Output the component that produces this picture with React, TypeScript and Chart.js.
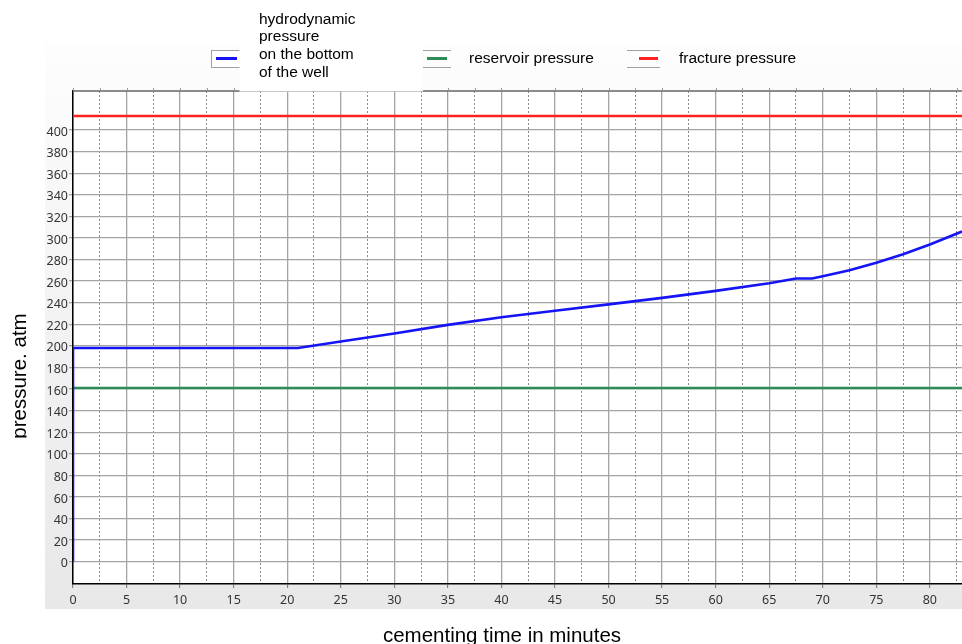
import { useEffect, useRef } from 'react';
import { Chart, registerables } from 'chart.js';

Chart.register(...registerables);

// ---- data ----
const timeMinutes = [0, 0, 21, 25, 30, 35, 40, 45, 50, 55, 60, 65, 67.5, 69, 70, 72.5, 75, 77.5, 80, 83];
const hydroPressure = [0, 198, 198, 204, 211.5, 219.5, 226.5, 232.5, 238.5, 244.5, 251, 258, 262.5, 262.5, 264.5, 270, 277, 285, 294, 306];
const reservoirTime = [0, 83];
const reservoirPressure = [161, 161];
const fractureTime = [0, 83];
const fracturePressure = [413, 413];

const xMajorTicks = [0, 5, 10, 15, 20, 25, 30, 35, 40, 45, 50, 55, 60, 65, 70, 75, 80];
const xMinorTicks = [2.5, 7.5, 12.5, 17.5, 22.5, 27.5, 32.5, 37.5, 42.5, 47.5, 52.5, 57.5, 62.5, 67.5, 72.5, 77.5, 82.5];
const yTicks = [0, 20, 40, 60, 80, 100, 120, 140, 160, 180, 200, 220, 240, 260, 280, 300, 320, 340, 360, 380, 400];

const seriesLabels = [
  ['hydrodynamic', 'pressure', 'on the bottom', 'of the well'],
  ['reservoir pressure'],
  ['fracture pressure'],
];
const seriesColors = ['rgb(20,20,245)', 'rgb(46,139,87)', 'rgb(255,32,32)'];
const xTitle = 'cementing time in minutes';
const yTitle = 'pressure. atm';

const allXTicks = [...xMajorTicks, ...xMinorTicks].sort((a, b) => a - b);
const isMajorX = (v: number) => xMajorTicks.includes(v);

const pts = (xs: number[], ys: number[]) => xs.map((x, i) => ({ x, y: ys[i] }));

const TICK_FONT = { family: '"Noto Sans", "Open Sans", sans-serif', size: 12.5 };
const TEXT_FAMILY = '"Liberation Sans", Arial, sans-serif';

const decorPlugin = {
  id: 'decor',
  beforeDraw(chart: any) {
    const { ctx, chartArea } = chart;
    ctx.save();
    const g = ctx.createLinearGradient(0, 43, 0, 609);
    g.addColorStop(0, '#fdfdfd');
    g.addColorStop(1, '#e8e8e8');
    ctx.fillStyle = g;
    ctx.fillRect(45, 43, 917, 566);
    ctx.fillStyle = '#ffffff';
    ctx.fillRect(chartArea.left, chartArea.top, chartArea.right - chartArea.left, chartArea.bottom - chartArea.top);
    ctx.restore();
  },
  afterDraw(chart: any) {
    const { ctx, chartArea } = chart;
    const xs = chart.scales.x;
    ctx.save();
    // top border of plot area
    ctx.strokeStyle = '#666666';
    ctx.lineWidth = 1.5;
    ctx.beginPath();
    ctx.moveTo(chartArea.left, chartArea.top);
    ctx.lineTo(chartArea.right, chartArea.top);
    ctx.stroke();
    // small marks above top border
    ctx.strokeStyle = '#9a9a9a';
    ctx.lineWidth = 1;
    allXTicks.forEach((v) => {
      const px = Math.round(xs.getPixelForValue(v)) + 0.5;
      ctx.beginPath();
      ctx.moveTo(px, chartArea.top - 3);
      ctx.lineTo(px, chartArea.top);
      ctx.stroke();
    });

    // legend item 1 box
    ctx.fillStyle = '#ffffff';
    ctx.fillRect(211, 50, 29, 17);
    ctx.strokeStyle = '#a0a0a0';
    ctx.lineWidth = 1;
    ctx.strokeRect(211.5, 50.5, 29, 17);
    // legend items 2,3 box lines
    [[418, 451], [627, 660]].forEach(([a, b]) => {
      ctx.beginPath();
      ctx.moveTo(a, 50.5);
      ctx.lineTo(b, 50.5);
      ctx.moveTo(a, 67.5);
      ctx.lineTo(b, 67.5);
      ctx.stroke();
    });
    // white text box of first label
    ctx.fillStyle = '#ffffff';
    ctx.fillRect(239.5, 0, 183.5, 91.5);

    // sample lines
    const samples = [[216, 237], [427, 447], [639, 658]];
    samples.forEach(([a, b], i) => {
      ctx.strokeStyle = seriesColors[i];
      ctx.lineWidth = 3;
      ctx.beginPath();
      ctx.moveTo(a, 58.5);
      ctx.lineTo(b, 58.5);
      ctx.stroke();
    });

    // legend texts
    ctx.fillStyle = '#000000';
    ctx.font = `15.5px ${TEXT_FAMILY}`;
    ctx.textAlign = 'left';
    ctx.textBaseline = 'middle';
    seriesLabels[0].forEach((line, i) => {
      ctx.fillText(line, 259, 19.5 + i * 17.6);
    });
    ctx.fillText(seriesLabels[1][0], 469, 58.5);
    ctx.fillText(seriesLabels[2][0], 679, 58.5);

    // axis titles
    ctx.font = `20.5px ${TEXT_FAMILY}`;
    ctx.textAlign = 'center';
    ctx.textBaseline = 'alphabetic';
    ctx.fillText(xTitle, 502, 641.5);

    ctx.save();
    ctx.beginPath();
    ctx.rect(0, 0, 26.5, 644);
    ctx.clip();
    ctx.translate(25.8, 376);
    ctx.rotate(-Math.PI / 2);
    ctx.fillText(yTitle, 0, 0);
    ctx.restore();

    ctx.restore();
  },
};

export default function App() {
  const ref = useRef<HTMLCanvasElement>(null);

  useEffect(() => {
    const canvas = ref.current;
    if (!canvas) return;
    const chart = new Chart(canvas, {
      type: 'scatter',
      data: {
        datasets: [
          {
            label: seriesLabels[0].join(' '),
            data: pts(timeMinutes, hydroPressure),
            showLine: true,
            borderColor: seriesColors[0],
            backgroundColor: seriesColors[0],
            borderWidth: 2.6,
            pointRadius: 0,
            tension: 0,
          },
          {
            label: seriesLabels[1][0],
            data: pts(reservoirTime, reservoirPressure),
            showLine: true,
            borderColor: seriesColors[1],
            backgroundColor: seriesColors[1],
            borderWidth: 2.6,
            pointRadius: 0,
          },
          {
            label: seriesLabels[2][0],
            data: pts(fractureTime, fracturePressure),
            showLine: true,
            borderColor: seriesColors[2],
            backgroundColor: seriesColors[2],
            borderWidth: 2.6,
            pointRadius: 0,
          },
        ],
      },
      options: {
        responsive: false,
        animation: false,
        devicePixelRatio: 1,
        layout: { padding: { left: 0, right: 0, top: 91, bottom: 0 } },
        plugins: {
          legend: { display: false },
          tooltip: { enabled: false },
          title: { display: false },
        },
        scales: {
          x: {
            type: 'linear',
            position: 'bottom',
            min: 0,
            max: 83,
            afterBuildTicks: (s: any) => {
              s.ticks = allXTicks.map((v) => ({ value: v }));
            },
            afterFit: (s: any) => {
              s.height = 60;
            },
            ticks: {
              autoSkip: false,
              maxRotation: 0,
              minRotation: 0,
              padding: 5,
              color: '#333333',
              font: TICK_FONT,
              callback: (v: any) => (isMajorX(Number(v)) ? String(v) : ''),
            },
            grid: {
              color: (c: any) => (c.tick && !isMajorX(c.tick.value) ? '#8a8a8a' : '#a4a4a4'),
              lineWidth: (c: any) => (c.tick && !isMajorX(c.tick.value) ? 1 : 1.3),
              tickLength: 4,
              tickColor: (c: any) => (c.tick && !isMajorX(c.tick.value) ? 'rgba(0,0,0,0)' : '#707070'),
              tickWidth: 1,
            },
            border: {
              display: true,
              color: '#000000',
              width: 1.5,
              dash: (c: any) => (c.tick && !isMajorX(c.tick.value) ? [2, 2] : []),
            },
          },
          y: {
            type: 'linear',
            position: 'left',
            min: -20.66,
            max: 436.2,
            afterBuildTicks: (s: any) => {
              s.ticks = yTicks.map((v) => ({ value: v }));
            },
            afterFit: (s: any) => {
              s.width = 73;
            },
            ticks: {
              padding: 1,
              labelOffset: 2,
              color: '#333333',
              font: TICK_FONT,
              callback: (v: any) => String(v),
            },
            grid: {
              color: '#a4a4a4',
              lineWidth: 1.3,
              tickLength: 4,
              tickColor: '#a4a4a4',
            },
            border: { display: true, color: '#000000', width: 1.5 },
          },
        },
      },
      plugins: [decorPlugin],
    } as any);
    return () => chart.destroy();
  }, []);

  return (
    <div style={{ position: 'absolute', left: 0, top: 0, width: 962, height: 644 }}>
      <canvas ref={ref} width={962} height={644} style={{ display: 'block', width: 962, height: 644 }} />
    </div>
  );
}
